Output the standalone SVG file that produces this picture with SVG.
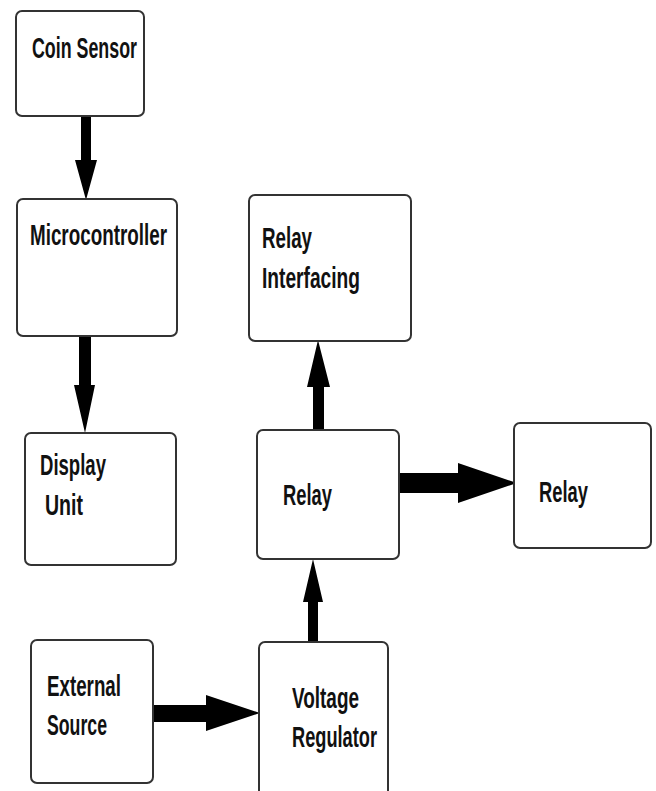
<svg xmlns="http://www.w3.org/2000/svg" width="656" height="791" viewBox="0 0 656 791">
<style>
.box{fill:#fff;stroke:#333;stroke-width:2}
.lbl{font-family:"Liberation Sans",Arial,sans-serif;font-size:29px;font-weight:bold;fill:#111}
.arr{fill:#000}
</style>
<rect width="656" height="791" fill="#fff"/>
<g id="connectors">
<polygon class="arr" points="81,116 91,116 91,160 97,160 86,200 75,160 81,160"/>
<polygon class="arr" points="79,336 91,336 91,385 95,385 85,433 74,385 79,385"/>
<polygon class="arr" points="153,705 206,705 206,695 260,713 206,731 206,722 153,722"/>
<polygon class="arr" points="308,643 318,643 318,602 323,602 313,559 303,602 308,602"/>
<polygon class="arr" points="313,430 324,430 324,387 330,387 318,340 307,387 313,387"/>
<polygon class="arr" points="399,473 458,473 458,463 517,483 458,503 458,493 399,493"/>
</g>
<g id="coin-sensor">
<rect class="box" x="16" y="11" width="128" height="105" rx="6"/>
<text class="lbl" x="32" y="58" textLength="105" lengthAdjust="spacingAndGlyphs">Coin Sensor</text>
</g>
<g id="microcontroller">
<rect class="box" x="17" y="199" width="160" height="137" rx="6"/>
<text class="lbl" x="30" y="245" textLength="137" lengthAdjust="spacingAndGlyphs">Microcontroller</text>
</g>
<g id="display-unit">
<rect class="box" x="25" y="433" width="151" height="132" rx="6"/>
<text class="lbl" x="40" y="475" textLength="66" lengthAdjust="spacingAndGlyphs">Display</text>
<text class="lbl" x="45" y="515" textLength="38" lengthAdjust="spacingAndGlyphs">Unit</text>
</g>
<g id="external-source">
<rect class="box" x="31" y="640" width="122" height="143" rx="6"/>
<text class="lbl" x="47" y="696" textLength="74" lengthAdjust="spacingAndGlyphs">External</text>
<text class="lbl" x="47" y="735" textLength="60" lengthAdjust="spacingAndGlyphs">Source</text>
</g>
<g id="voltage-regulator">
<rect class="box" x="259" y="642" width="129" height="160" rx="6"/>
<text class="lbl" x="292" y="708" textLength="67" lengthAdjust="spacingAndGlyphs">Voltage</text>
<text class="lbl" x="292" y="747" textLength="85" lengthAdjust="spacingAndGlyphs">Regulator</text>
</g>
<g id="relay-main">
<rect class="box" x="257" y="430" width="142" height="129" rx="6"/>
<text class="lbl" x="283" y="505" textLength="49" lengthAdjust="spacingAndGlyphs">Relay</text>
</g>
<g id="relay-interfacing">
<rect class="box" x="249" y="195" width="162" height="146" rx="6"/>
<text class="lbl" x="262" y="248" textLength="50" lengthAdjust="spacingAndGlyphs">Relay</text>
<text class="lbl" x="262" y="288" textLength="98" lengthAdjust="spacingAndGlyphs">Interfacing</text>
</g>
<g id="relay-output">
<rect class="box" x="514" y="423" width="137" height="125" rx="6"/>
<text class="lbl" x="539" y="502" textLength="49" lengthAdjust="spacingAndGlyphs">Relay</text>
</g>
</svg>
